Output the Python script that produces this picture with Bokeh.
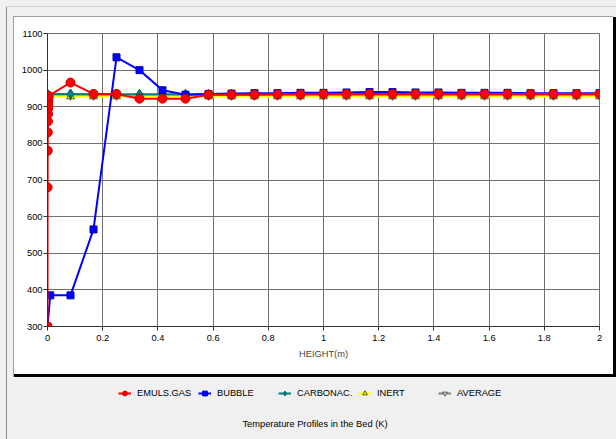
from bokeh.plotting import figure
from bokeh.layouts import column
from bokeh.models import Legend, LegendItem, Label, FixedTicker, Range1d
from bokeh.embed import file_html
from bokeh.resources import INLINE

# ---- data ----
step = [k / 12 for k in range(1, 25)]
x_emul = [0.0, 0.0004, 0.0008, 0.0012, 0.0016, 0.002, 0.0024, 0.0028, 0.0032, 0.0036, 0.004] + step
y_emul = [300, 680, 780, 830, 860, 880, 895, 905, 915, 925, 930,
          966, 935, 935, 922, 922, 922, 933, 933, 933, 934, 934, 935,
          935, 935, 935, 935, 935, 935, 935, 935, 935, 935, 935, 935]
x_bub = [0.0, 0.01] + step
y_bub = [300, 385,
         385, 565, 1035, 1000, 945, 933, 935, 936, 937, 937, 938, 938,
         939, 940, 940, 939, 939, 938, 938, 938, 937, 937, 937, 937]
x_sol = [0.0] + step
y_carb = [935] + [935, 934, 934, 934, 934, 934, 934, 934, 934, 934, 934, 934,
                  934, 934, 934, 934, 934, 934, 934, 934, 934, 934, 934, 934]
y_inert = [928] * 25
y_avg = [930] * 25

series_names = ["EMULS.GAS", "BUBBLE", "CARBONAC.", "INERT", "AVERAGE"]
x_ticks = [0, 0.2, 0.4, 0.6, 0.8, 1.0, 1.2, 1.4, 1.6, 1.8, 2.0]
x_tick_labels = ["0", "0.2", "0.4", "0.6", "0.8", "1", "1.2", "1.4", "1.6", "1.8", "2"]
y_ticks = [300, 400, 500, 600, 700, 800, 900, 1000, 1100]
x_label = "HEIGHT(m)"
caption = "Temperature Profiles in the Bed (K)"

FONT = "Liberation Sans"
FS = "9.3px"

# series styles
styles = [
    dict(color="#ff0000", marker="circle", size=9, fill="#ff0000", edge="#c00000"),
    dict(color="#0000ff", marker="square", size=7, fill="#0000ff", edge="#0000c0"),
    dict(color="#008080", marker="diamond", size=10, fill="#008080", edge="#006060"),
    dict(color="#ffff00", marker="triangle", size=8, fill="#ffff00", edge="#606000"),
    dict(color="#808080", marker="inverted_triangle", size=8, fill="#d0d0d0", edge="#606060"),
]

bg = ", ".join([
    "linear-gradient(#a0a0a0,#a0a0a0) 13px 16px / 600px 1px no-repeat",
    "linear-gradient(#a0a0a0,#a0a0a0) 13px 16px / 1px 361px no-repeat",
    "linear-gradient(#ffffff,#ffffff) 13px 16px / 600px 358px no-repeat",
    "linear-gradient(#000000,#000000) 14px 17px / 602px 360px no-repeat",
    "linear-gradient(#d4d4d4,#d4d4d4) 6px 6px / 610px 1px no-repeat",
    "linear-gradient(#8c8c8c,#8c8c8c) 6px 6px / 1px 433px no-repeat",
    "#f0f0f0",
])

p = figure(width=616, height=376, x_range=(0, 2), y_range=(300, 1100),
           output_backend="svg", toolbar_location=None, title_location=None,
           min_border_left=47, min_border_right=17, min_border_top=33,
           min_border_bottom=50)
p.border_fill_alpha = 0
p.background_fill_color = "#ffffff"
p.outline_line_color = "#707070"

for ax in (p.xaxis[0], p.yaxis[0]):
    ax.axis_line_color = "#303030"
    ax.major_tick_line_color = "#303030"
    ax.major_tick_out = 4
    ax.major_tick_in = 0
    ax.minor_tick_out = 0
    ax.minor_tick_in = 0
    ax.major_label_text_font = FONT
    ax.major_label_text_font_size = FS
    ax.major_label_text_color = "#000000"

p.xaxis.ticker = FixedTicker(ticks=x_ticks)
p.xaxis.major_label_overrides = {t: l for t, l in zip(x_ticks, x_tick_labels)}
p.xaxis.major_label_standoff = 4
p.xaxis.axis_label = x_label
p.xaxis.axis_label_text_font = FONT
p.xaxis.axis_label_text_font_size = FS
p.xaxis.axis_label_text_font_style = "normal"
p.xaxis.axis_label_standoff = 5
p.yaxis.ticker = FixedTicker(ticks=y_ticks)
p.yaxis.major_label_standoff = 1

p.grid.grid_line_color = "#707070"
p.grid.grid_line_width = 1

data = [(x_emul, y_emul), (x_bub, y_bub), (x_sol, y_carb), (x_sol, y_inert), (x_sol, y_avg)]
# draw back to front: average, inert, carbonac, bubble, emulsion gas
for i in [4, 3, 2, 1, 0]:
    xs, ys = data[i]
    st = styles[i]
    p.line(xs, ys, line_color=st["color"], line_width=2)
    p.scatter(xs, ys, marker=st["marker"], size=st["size"],
              fill_color=st["fill"], line_color=st["edge"])

# ---- legend / caption strip below the chart panel ----
# (its frame is aligned with the chart's frame: x 47..599 of the page)
q = figure(width=616, height=63, x_range=Range1d(0, 552), y_range=Range1d(0, 63),
           output_backend="svg", toolbar_location=None, title_location=None,
           x_axis_location=None, y_axis_location=None,
           min_border_left=0, min_border_right=0, min_border_top=0, min_border_bottom=0)
q.grid.visible = False
q.outline_line_color = None
q.background_fill_alpha = 0
q.border_fill_alpha = 0

items = []
for i, name in enumerate(series_names):
    st = styles[i]
    xs, ys = data[i]
    # same series data; it lies outside this strip's y range, so only the legend glyph shows
    lr = q.line(xs, ys, line_color=st["color"], line_width=2)
    sr = q.scatter(xs, ys, marker=st["marker"], size=st["size"] - 1,
                   fill_color=st["fill"], line_color=st["edge"])
    items.append(LegendItem(label=name, renderers=[lr, sr]))

legend = Legend(items=items, orientation="horizontal", location=(71, 40),
                spacing=0, padding=0, margin=0,
                glyph_width=13, glyph_height=12, label_height=12, label_standoff=6,
                label_width=61, label_text_font=FONT, label_text_font_size=FS,
                label_text_color="#000000",
                border_line_alpha=0, background_fill_alpha=0)
q.add_layout(legend, "center")

cap = Label(x=267.5, y=16, x_units="screen", y_units="screen", text=caption,
            text_align="center", text_baseline="middle", text_font=FONT,
            text_font_size=FS, text_color="#000000")
q.add_layout(cap)

layout = column(p, q, spacing=0, styles={"background": bg})
open("out.html", "w").write(file_html(layout, INLINE))
